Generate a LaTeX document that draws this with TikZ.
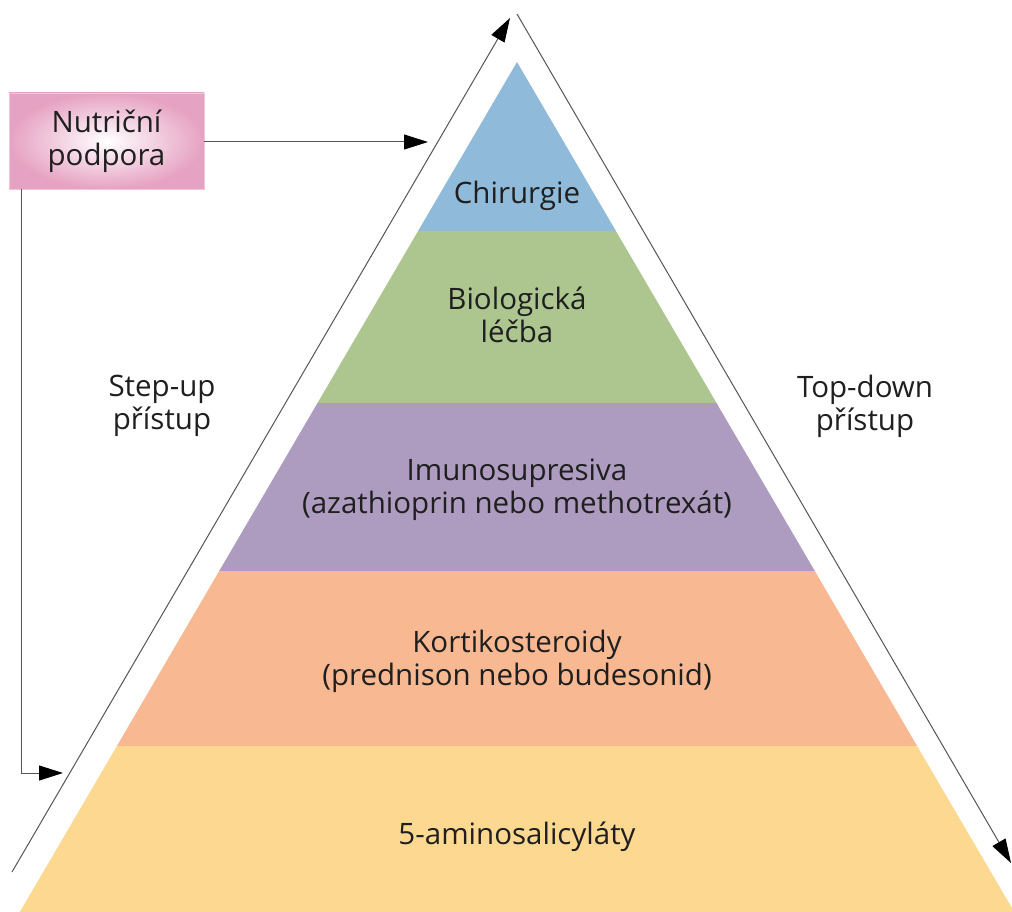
\documentclass[tikz,border=0pt]{standalone}
\usepackage{fontspec}
\setmainfont{Open Sans}
\usetikzlibrary{arrows.meta,positioning}

\definecolor{bandblue}{HTML}{8FBAD9}
\definecolor{bandgreen}{HTML}{ADC690}
\definecolor{bandviolet}{HTML}{AE9CC0}
\definecolor{bandorange}{HTML}{F8B891}
\definecolor{bandyellow}{HTML}{FDD891}
\definecolor{boxpink}{HTML}{E6A2C2}
\definecolor{linegray}{HTML}{555555}

\tikzset{
  lbl/.style={align=center, font=\fontsize{29.5}{33}\selectfont, text=black!88},
  conn/.style={draw=linegray, line width=1pt},
  tip/.style={-{Triangle[length=24pt,width=15pt,color=black,fill=black]}},
}

\begin{document}
\begin{tikzpicture}[x=1pt,y=-1pt]
			\useasboundingbox (0,0) rectangle (1012,912);
			% pyramid bands
			\fill[bandblue]   (517,62) -- (615.9,231) -- (418.1,231) -- cycle;
			\fill[bandgreen]  (418.1,231) -- (615.9,231) -- (716.5,403) -- (317.5,403) -- cycle;
			\fill[bandviolet] (317.5,403) -- (716.5,403) -- (814.8,571) -- (219.2,571) -- cycle;
			\fill[bandorange] (219.2,571) -- (814.8,571) -- (917.1,746) -- (116.9,746) -- cycle;
			\fill[bandyellow] (116.9,746) -- (917.1,746) -- (1014.3,912) -- (19.8,912) -- cycle;
			\node[lbl] (chir) at (517,196) {Chirurgie};
			\node[lbl] (bio) at (517,315) {Biologická\\léčba};
			\node[lbl] (imuno) at (517,490) {Imunosupresiva\\(azathioprin nebo methotrexát)};
			\node[lbl] (korti) at (517,661) {Kortikosteroidy\\(prednison nebo budesonid)};
			\node[lbl] (asa) at (517,837) {5-aminosalicyláty};
			% side arrows
			\coordinate (upstart) at (12,872);
			\coordinate (upend) at (510,18);
			\coordinate (downstart) at (517,14);
			\coordinate (downend) at (1011,863);
			\draw[conn,tip] (upstart) -- (upend);
			\draw[conn,tip] (downstart) -- (downend);
			\node[lbl] (stepup) at (162,406) {Step-up\\přístup};
			\node[lbl] (topdown) at (865,406) {Top-down\\přístup};
			% nutrition box
			\node[lbl, minimum width=195pt, minimum height=96pt, inner color=white, outer color=boxpink,
			      draw=boxpink!60, line width=0.5pt] (nutr) at (106.5,141) {Nutriční\\podpora};
			\coordinate (nutrtip) at (428,142);
			\coordinate (steptip) at (63,773);
			\draw[conn,tip] (nutr.east |- nutrtip) -- (nutrtip);
			\draw[conn,tip] (nutr.south -| 21,0) |- (steptip);
		\end{tikzpicture}
\end{document}
